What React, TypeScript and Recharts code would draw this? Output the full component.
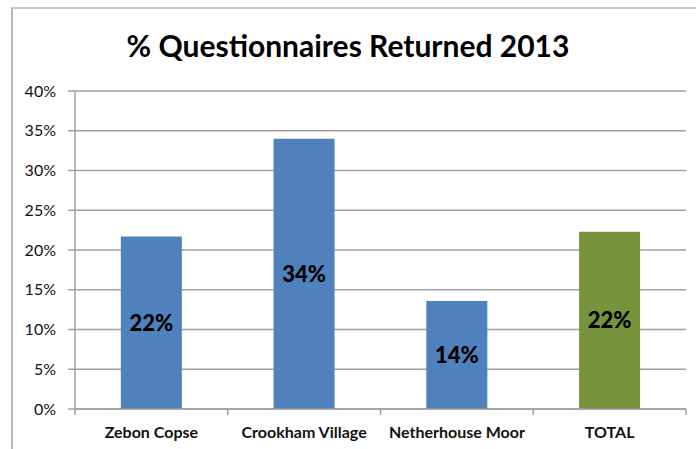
import React from "react"
import { Bar, BarChart, CartesianGrid, Cell, LabelList, XAxis, YAxis } from "recharts"

const categories = ["Zebon Copse", "Crookham Village", "Netherhouse Moor", "TOTAL"]
const returnedPct = [21.7, 34.0, 13.6, 22.3]
const barColors = ["#4F81BD", "#4F81BD", "#4F81BD", "#77933C"]
const yTicks = [0, 5, 10, 15, 20, 25, 30, 35, 40]

const chartData = categories.map((name, i) => ({ name, value: returnedPct[i] }))

const FONT = "Lato, 'Open Sans', sans-serif"
const AXIS_GRAY = "#A0A0A0"

// x tick: label at the category centre, tick marks at the category boundaries (Excel style)
function CategoryTick(props: any) {
  const { x, y, payload, index, width } = props
  const step = width / categories.length
  const left = x - step / 2
  return (
    <g>
      <line x1={left} x2={left} y1={y - 8} y2={y - 2} stroke={AXIS_GRAY} strokeWidth={1.5} />
      {index === categories.length - 1 && (
        <line x1={left + step} x2={left + step} y1={y - 8} y2={y - 2} stroke={AXIS_GRAY} strokeWidth={1.5} />
      )}
      <text x={x} y={y + 21} textAnchor="middle" fontFamily={FONT} fontWeight={700} fontSize={16} fill="#111">
        {payload.value}
      </text>
    </g>
  )
}

export default function App() {
  return (
    <div style={{ position: "fixed", left: 0, top: 0, width: 696, height: 449, background: "#fff", overflow: "hidden" }}>
      <div
        style={{
          position: "absolute",
          left: 11,
          top: 7,
          width: 700,
          height: 460,
          borderTop: "2px solid #C8C8C8",
          borderLeft: "2px solid #B8B8B8",
        }}
      />
      <div
        style={{
          position: "absolute",
          left: 0,
          width: 696,
          top: 27,
          textAlign: "center",
          fontFamily: FONT,
          fontWeight: 700,
          fontSize: 30,
          color: "#000",
        }}
      >
        % Questionnaires Returned 2013
      </div>
      <div style={{ position: "absolute", left: 0, top: 0 }}>
        <BarChart
          width={696}
          height={449}
          data={chartData}
          margin={{ top: 91, right: 10, left: 15, bottom: 10 }}
          barCategoryGap="30%"
        >
          <CartesianGrid vertical={false} stroke={AXIS_GRAY} strokeWidth={1.5} />
          <YAxis
            width={60}
            domain={[0, 40]}
            ticks={yTicks}
            tickFormatter={(v) => `${v}%`}
            axisLine={{ stroke: AXIS_GRAY, strokeWidth: 1.5 }}
            tickLine={{ stroke: AXIS_GRAY, strokeWidth: 1.5 }}
            tickSize={7}
            tickMargin={12}
            tick={{ fontFamily: FONT, fontSize: 16, fill: "#111" }}
          />
          <XAxis
            dataKey="name"
            height={30}
            axisLine={{ stroke: AXIS_GRAY, strokeWidth: 1.5 }}
            tickLine={false}
            interval={0}
            tick={<CategoryTick />}
          />
          <Bar dataKey="value" isAnimationActive={false}>
            {chartData.map((d, i) => (
              <Cell key={d.name} fill={barColors[i]} />
            ))}
            <LabelList
              dataKey="value"
              position="center"
              formatter={(v: any) => `${Math.round(v)}%`}
              style={{ fontFamily: FONT, fontWeight: 900, fontSize: 22, fill: "#000" }}
            />
          </Bar>
        </BarChart>
      </div>
    </div>
  )
}
